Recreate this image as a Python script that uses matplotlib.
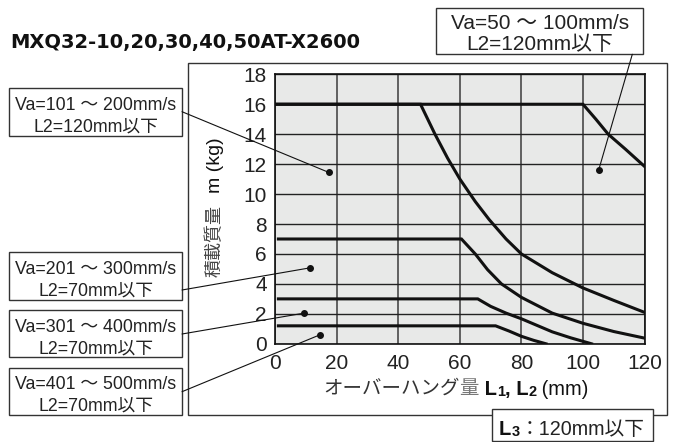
import matplotlib.pyplot as plt
from matplotlib.patches import Rectangle, ConnectionPatch
from matplotlib.text import Annotation

# allowable load vs. overhang, one curve per speed range
va50_x = [0, 100, 104.2, 108.2, 113.8, 120]
va50_m = [16, 16, 15, 14, 13, 11.85]

va200_x = [0, 47.2, 51.9, 56, 60, 65, 69.5, 75, 80, 90, 100, 110, 120]
va200_m = [16, 16, 14, 12.4, 11, 9.5, 8.3, 7.0, 6.0, 4.75, 3.73, 2.9, 2.1]

va300_x = [1, 60.5, 65, 69, 73.5, 80, 90, 100, 110, 120]
va300_m = [7, 7, 6.0, 4.95, 4.0, 3.1, 2.05, 1.37, 0.82, 0.38]

va400_x = [1, 65.8, 70, 75, 80, 90, 96, 102.8]
va400_m = [3, 3, 2.5, 2.05, 1.67, 0.8, 0.4, 0]

va500_x = [1, 71.6, 76, 80, 84, 88]
va500_m = [1.2, 1.2, 0.85, 0.5, 0.23, 0]

# callout texts and the point each leader line goes to
callouts = [
    ("Va=50 ～ 100mm/s", "L2=120mm以下", (105.1, 11.6)),
    ("Va=101 ～ 200mm/s", "L2=120mm以下", (17.35, 11.45)),
    ("Va=201 ～ 300mm/s", "L2=70mm以下", (11.2, 5.07)),
    ("Va=301 ～ 400mm/s", "L2=70mm以下", (9.4, 2.05)),
    ("Va=401 ～ 500mm/s", "L2=70mm以下", (14.5, 0.6)),
]

xticks = [0, 20, 40, 60, 80, 100, 120]
yticks = [0, 2, 4, 6, 8, 10, 12, 14, 16, 18]

W, H = 676, 442
FONT = ["Liberation Sans", "Noto Sans CJK JP"]
JP = ["Noto Sans CJK JP", "Liberation Sans"]
plt.rcParams["font.family"] = FONT


def fx(px):
    return px / W


def fy(py):
    return 1 - py / H


fig = plt.figure(figsize=(W / 100, H / 100), dpi=100)
ax = fig.add_axes([fx(275.3), fy(343.8), fx(644.5) - fx(275.3), fy(74.3) - fy(343.8)])
ax.set_facecolor("#e8e9e8")

for xs, ms in [(va50_x, va50_m), (va200_x, va200_m), (va300_x, va300_m),
               (va400_x, va400_m), (va500_x, va500_m)]:
    ax.plot(xs, ms, color="#111111", lw=2.2, solid_joinstyle="miter", zorder=3)

ax.set_xlim(0, 120)
ax.set_ylim(0, 18)
ax.set_xticks(xticks)
ax.set_yticks(yticks)
ax.tick_params(length=0, labelsize=15, colors="#222222")
ax.tick_params(axis="x", pad=7)
ax.tick_params(axis="y", pad=6)
ax.grid(axis="x", color="#555555", lw=1.3)
ax.grid(axis="y", color="#222222", lw=1.0)
ax.set_axisbelow(True)
for s in ax.spines.values():
    s.set_color("#111111")
    s.set_linewidth(1.2)

# outer frame
fig.add_artist(Rectangle((fx(188), fy(415)), fx(667) - fx(188), fy(63) - fy(415),
                         transform=fig.transFigure, fill=False, lw=1.0, ec="#333333", zorder=1))

fig.text(fx(10), fy(48.3), "MXQ32-10,20,30,40,50AT-X2600", family="DejaVu Sans",
         fontweight="bold", fontsize=14, va="baseline", color="#111111")

# y label
fig.text(fx(215), fy(241), "積載質量", family=JP, rotation=90, fontsize=13,
         ha="center", va="center", color="#444444")
fig.text(fx(215), fy(165), "m (kg)", rotation=90, fontsize=14,
         ha="center", va="center", color="#111111")


def chain(x, y, pieces, z=3):
    # lay text pieces side by side, each starting where the previous one ends
    t = fig.text(x, y, pieces[0][0], va="bottom", ha="left", zorder=z, **pieces[0][1])
    for s, kw in pieces[1:]:
        t = fig.add_artist(Annotation(s, xy=(1, 0), xycoords=t, va="bottom", ha="left", **kw))
        t.set_zorder(z)
    return t


chain(fx(323), fy(399), [
    ("オーバーハング", dict(family=JP, fontsize=14, color="#333333")),
    ("量", dict(family=JP, fontsize=14, color="#777777")),
    (" L", dict(fontsize=14.5, fontweight="bold", color="#111111")),
    ("1", dict(fontsize=10.5, fontweight="bold", color="#111111")),
    (", L", dict(fontsize=14.5, fontweight="bold", color="#111111")),
    ("2", dict(fontsize=10.5, fontweight="bold", color="#111111")),
    (" (mm)", dict(fontsize=14.5, color="#111111")),
])

# callout boxes: (x0, y0, x1, y1) in pixels, leader start, font size
boxes = [
    ((436, 8.3, 643.3, 54.3), (632.3, 54.3), 15),
    ((9, 88.3, 182, 135.7), (182, 111.7), 12.8),
    ((9, 252.3, 182, 300), (182, 290), 12.8),
    ((9, 310, 182, 357.3), (182, 334), 12.8),
    ((9, 367.7, 182, 415), (182, 391.7), 12.8),
]

for (line1, line2, dot), ((x0, y0, x1, y1), start, size) in zip(callouts, boxes):
    fig.add_artist(Rectangle((fx(x0), fy(y1)), fx(x1) - fx(x0), fy(y0) - fy(y1),
                             transform=fig.transFigure, fc="white", ec="#333333", lw=1.0, zorder=2))
    cx = fx((x0 + x1) / 2)
    h = y1 - y0
    fig.text(cx, fy(y0 + 0.46 * h), line1, fontsize=size, ha="center", va="baseline",
             color="#222222", zorder=3)
    fig.text(cx, fy(y0 + 0.915 * h), line2, fontsize=size, ha="center", va="baseline",
             color="#222222", zorder=3)
    fig.add_artist(ConnectionPatch(xyA=(fx(start[0]), fy(start[1])), coordsA=fig.transFigure,
                                   xyB=dot, coordsB=ax.transData, color="#111111", lw=0.8, zorder=4))
    ax.plot([dot[0]], [dot[1]], "o", color="#111111", ms=4, clip_on=False, zorder=5)

# L3 note sits over the bottom of the frame
fig.add_artist(Rectangle((fx(491.7), fy(441)), fx(652.7) - fx(491.7), fy(409.3) - fy(441),
                         transform=fig.transFigure, fc="white", ec="#333333", lw=1.0, zorder=2))
chain(fx(499), fy(439), [
    ("L", dict(fontsize=14.5, fontweight="bold", color="#111111")),
    ("3", dict(fontsize=10.5, fontweight="bold", color="#111111")),
    ("：120mm以下", dict(fontsize=14.2, color="#222222")),
])

fig.savefig("out.png", dpi=100)
